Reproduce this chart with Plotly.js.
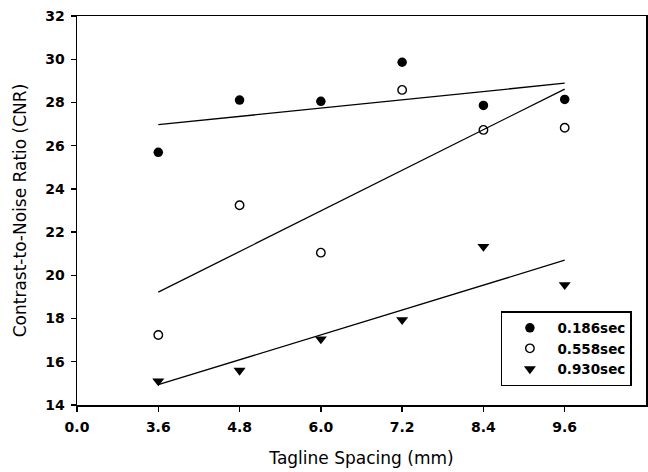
<!DOCTYPE html>
<html>
<head>
<meta charset="utf-8">
<script src="https://cdn.plot.ly/plotly-3.0.1.min.js"></script>
<style>html,body{margin:0;padding:0;background:#fff;}#chart{width:648px;height:472px;}</style>
</head>
<body>
<div id="chart"></div>
<script>
// Tagline spacing (mm) — plotted at evenly spaced positions, as in the original
const tickLabels = ['0.0', '3.6', '4.8', '6.0', '7.2', '8.4', '9.6'];
const spacing = ['3.6', '4.8', '6.0', '7.2', '8.4', '9.6'];
const seriesNames = ['0.186sec', '0.558sec', '0.930sec'];
// CNR values
const cnr0186 = [25.69, 28.11, 28.05, 29.86, 27.86, 28.14];
const cnr0558 = [17.24, 23.24, 21.05, 28.58, 26.73, 26.83];
const cnr0930 = [15.11, 15.60, 17.05, 17.94, 21.33, 19.56];
// Regression line end points
const fitSpacing = ['3.6', '9.6'];
const fit0186 = [26.97, 28.89];
const fit0558 = [19.22, 28.62];
const fit0930 = [14.94, 20.70];

const pos = v => tickLabels.indexOf(v);
const xs = spacing.map(pos);
const fx = fitSpacing.map(pos);

const lineStyle = {color: '#000', width: 1.3};
const traces = [
  {x: fx, y: fit0186, mode: 'lines', line: lineStyle, showlegend: false, hoverinfo: 'skip'},
  {x: fx, y: fit0558, mode: 'lines', line: lineStyle, showlegend: false, hoverinfo: 'skip'},
  {x: fx, y: fit0930, mode: 'lines', line: lineStyle, showlegend: false, hoverinfo: 'skip'},
  {x: xs, y: cnr0186, mode: 'markers', name: seriesNames[0],
   marker: {symbol: 'circle', size: 9.5, color: '#000', line: {color: '#000', width: 0}}},
  {x: xs, y: cnr0558, mode: 'markers', name: seriesNames[1],
   marker: {symbol: 'circle-open', size: 8.5, color: '#000', line: {color: '#000', width: 1.4}}},
  {x: xs, y: cnr0930, mode: 'markers', name: seriesNames[2],
   marker: {symbol: 'triangle-down', size: 10.5, color: '#000', line: {color: '#000', width: 0}}}
];

const tickFont = {family: 'DejaVu Sans', size: 14, color: '#000', weight: 'bold'};
const layout = {
  width: 648, height: 472,
  margin: {l: 77, r: 2, t: 16, b: 67},
  paper_bgcolor: '#fff', plot_bgcolor: '#fff',
  showlegend: true,
  legend: {
    x: 0.745, y: 0.2416, xanchor: 'left', yanchor: 'top',
    bordercolor: '#000', borderwidth: 1.5, bgcolor: '#fff',
    font: {family: 'DejaVu Sans', size: 13.5, color: '#000', weight: 'bold'},
    itemwidth: 45, tracegroupgap: 0
  },
  xaxis: {
    range: [0, 7], tickvals: tickLabels.map((t, i) => i), ticktext: tickLabels,
    showgrid: false, zeroline: false, showline: true, linecolor: '#000', linewidth: 1.5,
    mirror: true, ticks: 'outside', ticklen: 5, tickwidth: 1.3, tickcolor: '#000',
    tickfont: tickFont, ticklabelstandoff: 4,
    title: {text: 'Tagline Spacing (mm)', font: {family: 'DejaVu Sans', size: 17, color: '#000'}, standoff: 18}
  },
  yaxis: {
    range: [14, 32], dtick: 2, tick0: 14,
    showgrid: false, zeroline: false, showline: true, linecolor: '#000', linewidth: 1.5,
    mirror: true, ticks: 'outside', ticklen: 5, tickwidth: 1.3, tickcolor: '#000',
    tickfont: tickFont, ticklabelstandoff: 3,
    title: {text: 'Contrast-to-Noise Ratio (CNR)', font: {family: 'DejaVu Sans', size: 17, color: '#000'}, standoff: 14}
  }
};

Plotly.newPlot('chart', traces, layout, {displayModeBar: false, staticPlot: true});
</script>
</body>
</html>
